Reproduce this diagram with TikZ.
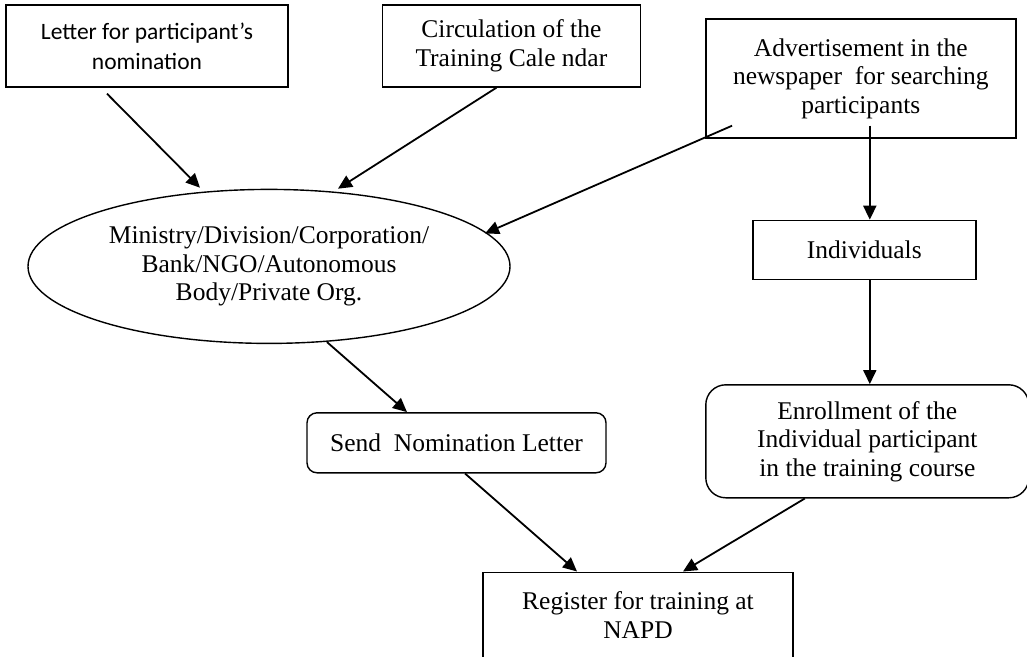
\documentclass[tikz,border=0pt]{standalone}
\usepackage{fontspec}
\setmainfont{Liberation Serif}
\newfontfamily\calibrifont{Carlito}
\usetikzlibrary{arrows.meta, positioning, shapes.geometric}

\begin{document}
\begin{tikzpicture}[x=1pt, y=-1pt,
      box/.style={draw, line width=1.4pt, align=center, inner sep=0pt,
                  font=\fontsize{25.5}{28.5}\selectfont},
      roundbox/.style={box, rounded corners=10pt},
      orgshape/.style={box, ellipse},
      flow/.style={-{Triangle[length=14pt,width=13pt]}, line width=1.8pt}]
    \useasboundingbox (0,0) rectangle (1027,656);
    % sources along the top
    \node[box, minimum width=282pt, minimum height=82pt,
          font=\calibrifont\fontsize{23.5}{30}\selectfont] (letter) at (147,46) {Letter for participant’s\\ nomination};
    \node[box, minimum width=258pt, minimum height=82pt, right=93pt of letter] (cal) {Circulation of the\\ Training Cale ndar};
    \node[box, minimum width=310pt, minimum height=119pt, right=64pt of cal, yshift=-32.5pt] (adv) {Advertisement in the\\ newspaper~ for searching\\ participants};
    % organisations and individuals
    \node[orgshape, minimum width=482pt, minimum height=154pt, below=101pt of letter, xshift=122pt] (org) {Ministry/Division/Corporation/\\ Bank/NGO/Autonomous\\ Body/Private Org.};
    \node[box, minimum width=223pt, minimum height=59pt, below=81pt of adv, xshift=3.5pt] (ind) {Individuals};
    \node[roundbox, rounded corners=20pt, minimum width=323pt, minimum height=113pt, below=104pt of ind, xshift=3pt] (enr) {Enrollment of the\\ Individual participant\\ in the training course};
    \node[roundbox, minimum width=299pt, minimum height=60pt, below=68pt of org, xshift=187.5pt] (send) {Send~ Nomination Letter};
    % final step
    \node[box, minimum width=310pt, minimum height=86pt, below=98pt of send, xshift=181.5pt] (reg) {Register for training at\\ NAPD};
    % edges
    \draw[flow] ([xshift=-40pt,yshift=-6pt]letter.south) -- ([xshift=-69pt,yshift=1pt]org.north);
    \draw[flow] ([xshift=-15pt]cal.south) -- ([xshift=69pt]org.north);
    \draw[flow] ([xshift=27pt,yshift=13pt]adv.south west) -- ([xshift=216pt,yshift=33pt]org.center);
    \draw[flow] ([xshift=9pt,yshift=13pt]adv.south) -- ([xshift=5.5pt]ind.north);
    \draw[flow] ([xshift=5.5pt]ind.south) -- ([xshift=2.5pt]enr.north);
    \draw[flow] ([xshift=58pt,yshift=2pt]org.south) -- ([xshift=-49.5pt]send.north);
    \draw[flow] ([xshift=8.5pt]send.south) -- ([xshift=-61pt]reg.north);
    \draw[flow] ([xshift=-62.5pt]enr.south) -- ([xshift=45pt]reg.north);
  \end{tikzpicture}
\end{document}
